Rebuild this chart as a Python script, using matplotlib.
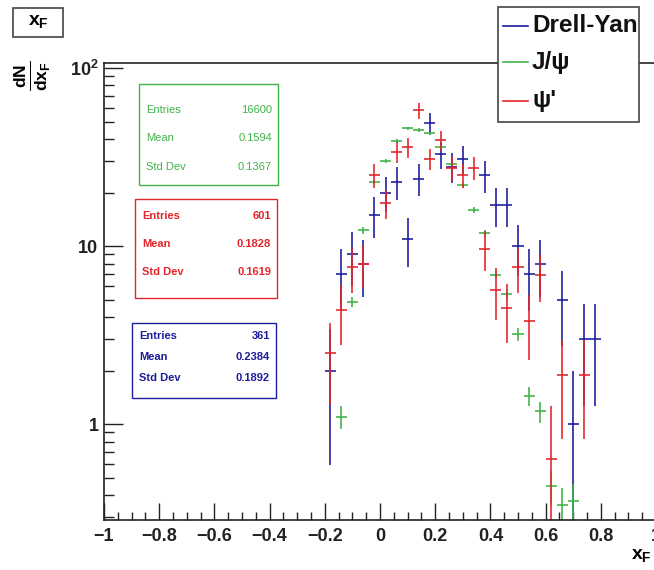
import matplotlib
matplotlib.use("Agg")
import matplotlib.pyplot as plt
from matplotlib.patches import Rectangle
from matplotlib.lines import Line2D
from matplotlib.ticker import FixedLocator, MultipleLocator, FuncFormatter, NullFormatter

plt.rcParams["font.family"] = ["Liberation Sans", "DejaVu Sans"]
plt.rcParams["mathtext.fontset"] = "custom"
plt.rcParams["mathtext.rm"] = "Liberation Sans:bold"
plt.rcParams["mathtext.it"] = "Liberation Sans:bold"
plt.rcParams["mathtext.bf"] = "Liberation Sans:bold"

# bin centres (bin width 0.04) and contents
dy_x   = [-0.18, -0.14, -0.10, -0.06, -0.02, 0.02, 0.06, 0.10, 0.14, 0.18, 0.22, 0.26,
          0.30, 0.38, 0.42, 0.46, 0.50, 0.54, 0.58, 0.66, 0.70, 0.74, 0.78]
dy_y   = [2, 7, 9, 8, 15, 20, 23, 11, 24, 49, 33, 28,
          31, 25, 17, 17, 10, 7, 8, 5, 1, 3, 3]
dy_err = [1.41, 2.65, 3.0, 2.83, 3.87, 4.47, 4.8, 3.32, 4.9, 7.0, 5.74, 5.29,
          5.57, 5.0, 4.12, 4.12, 3.16, 2.65, 2.83, 2.24, 1.0, 1.73, 1.73]

jpsi_x   = [-0.14, -0.10, -0.06, -0.02, 0.02, 0.06, 0.10, 0.14, 0.18, 0.22, 0.26,
            0.30, 0.34, 0.38, 0.42, 0.46, 0.50, 0.54, 0.58, 0.62, 0.66, 0.70]
jpsi_y   = [1.1, 4.85, 12.3, 23, 30, 39, 46, 45, 43, 36, 29,
            22, 16, 11.8, 6.9, 5.4, 3.2, 1.44, 1.18, 0.45, 0.35, 0.37]
jpsi_err = [0.16, 0.32, 0.52, 0.71, 0.81, 0.92, 1.0, 0.99, 0.97, 0.88, 0.79,
            0.69, 0.59, 0.51, 0.39, 0.34, 0.26, 0.18, 0.16, 0.10, 0.09, 0.09]

psi2_x   = [-0.18, -0.14, -0.10, -0.06, -0.02, 0.02, 0.06, 0.10, 0.14, 0.18, 0.22, 0.26,
            0.30, 0.34, 0.38, 0.42, 0.46, 0.50, 0.54, 0.58, 0.62, 0.66, 0.74]
psi2_y   = [2.5, 4.4, 7.6, 8.0, 25, 17.4, 34, 36, 58, 31, 39.5, 27.5,
            25, 27.5, 9.7, 5.7, 4.5, 7.6, 3.8, 6.9, 0.64, 1.9, 1.9]
psi2_err = [1.22, 1.62, 2.14, 2.19, 3.87, 3.23, 4.52, 4.65, 5.9, 4.31, 4.87, 4.06,
            3.87, 4.06, 2.41, 1.85, 1.64, 2.14, 1.51, 2.03, 0.62, 1.07, 1.07]

half_bin = 0.02

names  = ["Drell-Yan", "J/\u03c8", "\u03c8'"]
colors = ["#1c1c9c", "#40b24a", "#e3262b"]

stats_rows  = ["Entries", "Mean", "Std Dev"]
stats_green = ["16600", "0.1594", "0.1367"]
stats_red   = ["601", "0.1828", "0.1619"]
stats_blue  = ["361", "0.2384", "0.1892"]

W, H = 654, 570
fig = plt.figure(figsize=(W / 100, H / 100), dpi=100)


def fx(px):
    return px / W


def fy(py):
    return 1 - py / H


ax = fig.add_axes([fx(104), fy(520), fx(656) - fx(104), fy(63) - fy(520)])
ax.set_yscale("log", nonpositive="clip")
ax.set_xlim(-1, 1)
ax.set_ylim(0.29, 107)

series = [(dy_x, dy_y, dy_err), (jpsi_x, jpsi_y, jpsi_err), (psi2_x, psi2_y, psi2_err)]
for (xs, ys, es), c in zip(series, colors):
    ax.errorbar(xs, ys, xerr=half_bin, yerr=es, fmt="none", ecolor=c,
                elinewidth=1.3, capsize=0, alpha=0.9)

# axes styling, ROOT look
for side in ["left", "bottom", "top"]:
    ax.spines[side].set_linewidth(1.2)
    ax.spines[side].set_color("#222222")
ax.spines["right"].set_visible(False)

ax.xaxis.set_major_locator(MultipleLocator(0.2))
ax.xaxis.set_minor_locator(MultipleLocator(0.05))
ax.xaxis.set_major_formatter(FuncFormatter(
    lambda v, p: f"{v:g}".replace("-", "\u2212") if abs(v) > 1e-9 else "0"))
ax.yaxis.set_major_locator(FixedLocator([1, 10, 100]))
ax.yaxis.set_minor_locator(FixedLocator([v * d for d in [0.1, 1, 10] for v in range(2, 10)]))
ax.yaxis.set_major_formatter(FuncFormatter(
    lambda v, p: {1: "1", 10: "10", 100: r"$10^2$"}.get(int(round(v)), "")))
ax.yaxis.set_minor_formatter(NullFormatter())
ax.tick_params(which="major", direction="in", length=12, width=1, colors="#222222",
               labelsize=13, top=False, right=False)
ax.tick_params(which="minor", direction="in", length=6, width=1, colors="#222222",
               top=False, right=False)
ax.tick_params(axis="y", which="major", length=14, pad=4)
ax.tick_params(axis="y", which="minor", length=7)
ax.tick_params(axis="x", pad=6)
for lab in ax.get_xticklabels() + ax.get_yticklabels():
    lab.set_fontweight("bold")

# axis titles
fig.text(fx(641), fy(556), r"$x_F$", fontsize=14, ha="center", va="center")
fig.text(fx(32), fy(76), r"$\frac{dN}{dx_F}$", fontsize=18, rotation=90, ha="center", va="center")

# title box
fig.add_artist(Rectangle((fx(13), fy(37)), fx(63) - fx(13), fy(8) - fy(37),
                         transform=fig.transFigure, facecolor="white", edgecolor="#444444", lw=1.2))
fig.text(fx(38), fy(22), r"$x_F$", fontsize=14, ha="center", va="center")


def stats_box(x0, y0, x1, y1, rows_y, color, values, weight):
    fig.add_artist(Rectangle((fx(x0), fy(y1)), fx(x1) - fx(x0), fy(y0) - fy(y1),
                             transform=fig.transFigure, facecolor="white", edgecolor=color, lw=1))
    for name, val, yy in zip(stats_rows, values, rows_y):
        fig.text(fx(x0 + 7), fy(yy), name, color=color, fontsize=8, fontweight=weight,
                 ha="left", va="center")
        fig.text(fx(x1 - 6), fy(yy), val, color=color, fontsize=8, fontweight=weight,
                 ha="right", va="center")


stats_box(139, 84, 278, 185, [110, 138, 167], colors[1], stats_green, "normal")
stats_box(135, 199, 277, 298, [216, 244, 272], colors[2], stats_red, "bold")
stats_box(132, 323, 276, 398, [336, 357, 378], colors[0], stats_blue, "bold")

# legend
fig.add_artist(Rectangle((fx(498), fy(122)), fx(639) - fx(498), fy(7) - fy(122),
                         transform=fig.transFigure, facecolor="white", edgecolor="#444444", lw=1.2))
for name, c, yy in zip(names, colors, [26, 62, 101]):
    fig.add_artist(Line2D([fx(503), fx(528)], [fy(yy), fy(yy)], transform=fig.transFigure,
                          color=c, lw=1.2))
    fig.text(fx(532), fy(yy), name, fontsize=17.5, fontweight="bold", ha="left", va="center",
             color="#111111")

fig.savefig("out.png", dpi=100)
